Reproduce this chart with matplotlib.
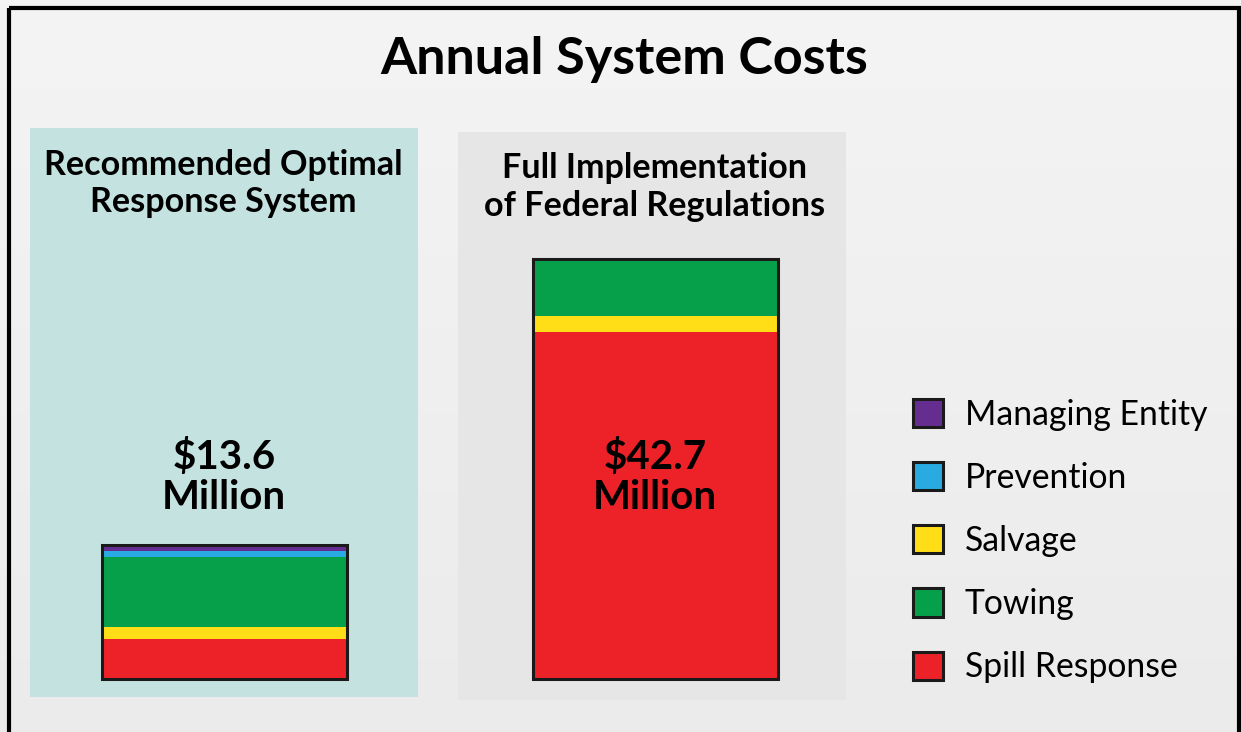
import matplotlib
matplotlib.use("Agg")
import matplotlib.pyplot as plt
from matplotlib.patches import Rectangle, Patch
import numpy as np

# ---------------- data ----------------
title = "Annual System Costs"
systems = ["Recommended Optimal\nResponse System", "Full Implementation\nof Federal Regulations"]
totals_text = ["$13.6\nMillion", "$42.7\nMillion"]
components = ["Spill Response", "Salvage", "Towing", "Prevention", "Managing Entity"]
spill_response = [4.1, 35.2]
salvage = [1.2, 1.7]
towing = [7.1, 5.8]
prevention = [0.6, 0.0]
managing_entity = [0.6, 0.0]
colors = ["#ed2228", "#ffde17", "#06a04a", "#29abe2", "#662d91"]

# ---------------- layout (pixels) ----------------
W, H = 1241, 732
fig = plt.figure(figsize=(W / 100, H / 100), dpi=100)
plt.rcParams["font.family"] = ["Lato", "DejaVu Sans"]

canvas = fig.add_axes([0, 0, 1, 1])
canvas.set_xlim(0, W)
canvas.set_ylim(H, 0)
canvas.axis("off")

# background gradient
grad = np.linspace(0, 1, 200).reshape(-1, 1)
bg = np.ones((200, 1, 3)) * (0.957 - 0.035 * grad)[..., None]
canvas.imshow(bg, extent=[0, W, H, 0], aspect="auto", zorder=0)

# outer frame
canvas.add_patch(Rectangle((9, 8), 1230, 760, fill=False, edgecolor="black", lw=3.0, zorder=1))

# panels
canvas.add_patch(Rectangle((30, 128), 388, 569, facecolor="#c4e3e0", edgecolor="none", zorder=1))
canvas.add_patch(Rectangle((458, 132), 388, 568, facecolor="#e6e6e6", edgecolor="none", zorder=1))

# title
canvas.text(624, 74, title, ha="center", va="baseline", fontsize=37.5, fontweight="bold", zorder=3)

# panel titles
pt_fs = 24.6
canvas.text(223, 175, systems[0].split("\n")[0], ha="center", va="baseline", fontsize=pt_fs, fontweight="bold", zorder=3)
canvas.text(223, 212, systems[0].split("\n")[1], ha="center", va="baseline", fontsize=pt_fs, fontweight="bold", zorder=3)
canvas.text(655, 178, systems[1].split("\n")[0], ha="center", va="baseline", fontsize=pt_fs, fontweight="bold", zorder=3)
canvas.text(655, 216, systems[1].split("\n")[1], ha="center", va="baseline", fontsize=pt_fs, fontweight="bold", zorder=3)

# ---------------- bars ----------------
c0, c1 = 224.25, 655.0           # bar centers in px
unit = c1 - c0                    # px per category unit
zero_px = 679.0
px_per_m = (679.0 - 258.5) / 42.7
ax_l, ax_r, ax_t, ax_b = 30, 846, 128, 697
ax = fig.add_axes([ax_l / W, 1 - ax_b / H, (ax_r - ax_l) / W, (ax_b - ax_t) / H])
ax.set_xlim(-(c0 - ax_l) / unit, 1 + (ax_r - c1) / unit)
ax.set_ylim(-(ax_b - zero_px) / px_per_m, (zero_px - ax_t) / px_per_m)
ax.axis("off")
ax.patch.set_alpha(0)

x = np.arange(len(systems))
bw = 245 / unit
series = [spill_response, salvage, towing, prevention, managing_entity]
bottom = np.zeros(len(systems))
for vals, col, name in zip(series, colors, components):
    ax.bar(x, vals, bw, bottom=bottom, color=col, edgecolor="none", zorder=2, label=name)
    bottom += np.array(vals)
ax.bar(x, bottom, bw, fill=False, edgecolor="#1a1a1a", lw=2.2, zorder=3)

# value labels
for xi, t in zip(x, totals_text):
    l1, l2 = t.split("\n")
    ax.text(xi, (zero_px - 469) / px_per_m, l1, ha="center", va="baseline", fontsize=29, fontweight="bold", zorder=4)
    ax.text(xi, (zero_px - 509) / px_per_m, l2, ha="center", va="baseline", fontsize=29, fontweight="bold", zorder=4)

# legend
lg_fs = 24.3
handles = [Patch(facecolor=c, edgecolor="#1a1a1a", lw=2.2) for c in colors]
order = [4, 3, 1, 2, 0]
fig.legend([handles[i] for i in order], [components[i] for i in order],
           loc="upper left", bbox_to_anchor=(913 / W, 1 - 399 / H), frameon=False,
           fontsize=lg_fs, handlelength=0.9, handleheight=0.9, handletextpad=0.63,
           labelspacing=0.92, borderpad=0, borderaxespad=0)

fig.savefig("out.png", dpi=100)
